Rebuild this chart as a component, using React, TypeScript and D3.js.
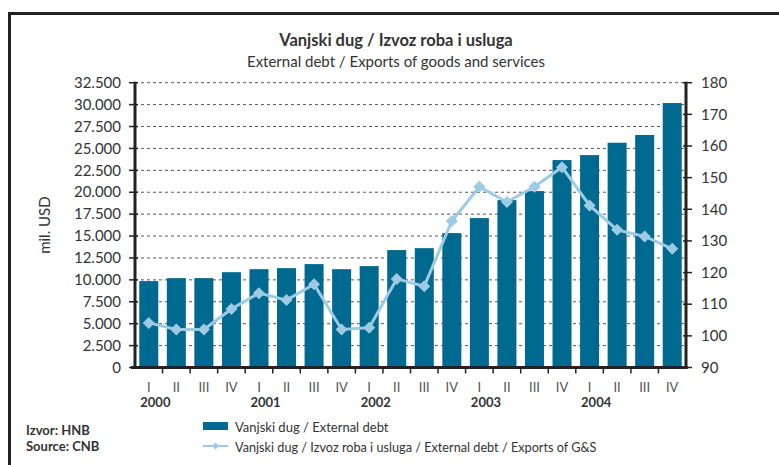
import React from "react";
import * as d3 from "d3";

const quarters = ["I","II","III","IV","I","II","III","IV","I","II","III","IV","I","II","III","IV","I","II","III","IV"];
const years = ["2000","2001","2002","2003","2004"];
const externalDebt = [9860,10200,10200,10880,11220,11340,11800,11220,11570,13400,13620,15340,17050,19100,20130,23670,24240,25650,26530,30180];
const debtToExports = [104.1,102.0,102.0,108.5,113.5,111.3,116.3,102.0,102.6,118.0,115.7,136.3,147.1,142.3,147.1,153.3,141.2,133.5,131.4,127.5];
const leftTicks = [0,2500,5000,7500,10000,12500,15000,17500,20000,22500,25000,27500,30000,32500];
const rightTicks = [90,100,110,120,130,140,150,160,170,180];

const W = 779, H = 465;
const X0 = 135, X1 = 686, Y0 = 367.5, Y1 = 82.7;
const FONT = "Lato, 'Open Sans', sans-serif";
const BAR = "#00698f";
const LINE = "#9ccbe3";
const TXT = "#333";

export default function App() {
  const idx = d3.range(externalDebt.length);
  const x = d3.scaleBand<number>().domain(idx).range([X0, X1]).paddingInner(0.31).paddingOuter(0.155);
  const yL = d3.scaleLinear().domain([0, 32500]).range([Y0, Y1]);
  const yR = d3.scaleLinear().domain([90, 180]).range([Y0, Y1]);
  const fmt = (v: number) => d3.format(",")(v).replace(/,/g, ".");
  const line = d3.line<number>().x((_, i) => x(i)! + x.bandwidth() / 2).y(d => yR(d));
  const step = x.step();
  const diamond = (cx: number, cy: number, r: number) => `M${cx},${cy - r}L${cx + r},${cy}L${cx},${cy + r}L${cx - r},${cy}Z`;

  return (
    <svg width={W} height={H} style={{ position: "absolute", left: 0, top: 0, background: "#fff" }} fontFamily={FONT}>
      <rect x={9.5} y={13.5} width={W + 20} height={H + 20} fill="#fff" stroke="#222" strokeWidth={3} />
      <text x={396} y={46} textAnchor="middle" fontWeight="bold" fontSize={16.5} fill={TXT}>Vanjski dug / Izvoz roba i usluga</text>
      <text x={396} y={67} textAnchor="middle" fontSize={15} fill={TXT}>External debt / Exports of goods and services</text>

      {/* gridlines */}
      {leftTicks.filter(t => t > 0).map(t => (
        <line key={t} x1={X0} x2={X1} y1={yL(t)} y2={yL(t)} stroke="#555" strokeWidth={1} strokeDasharray="3,3" />
      ))}

      {/* bars */}
      {externalDebt.map((v, i) => (
        <rect key={i} x={x(i)} y={yL(v)} width={x.bandwidth()} height={Y0 - yL(v)} fill={BAR} />
      ))}

      {/* line */}
      <path d={line(debtToExports) || ""} fill="none" stroke={LINE} strokeWidth={3} />
      {debtToExports.map((v, i) => (
        <path key={i} d={diamond(x(i)! + x.bandwidth() / 2, yR(v), 6)} fill={LINE} />
      ))}

      {/* left axis */}
      <line x1={X0} x2={X0} y1={Y1 - 1} y2={Y0 + 1.5} stroke="#222" strokeWidth={3} />
      {leftTicks.map(t => (
        <g key={t}>
          <line x1={X0 - 6} x2={X0 + 3} y1={yL(t)} y2={yL(t)} stroke="#222" strokeWidth={1.5} />
          <text x={121} y={yL(t)} dy="0.35em" textAnchor="end" fontSize={15} fill={TXT}>{fmt(t)}</text>
        </g>
      ))}
      <text transform={`translate(50,${(Y0 + Y1) / 2}) rotate(-90)`} textAnchor="middle" fontSize={15} fill={TXT}>mil. USD</text>

      {/* right axis */}
      <line x1={X1} x2={X1} y1={Y1 - 1} y2={Y0 + 1.5} stroke="#222" strokeWidth={3} />
      {rightTicks.map(t => (
        <g key={t}>
          <line x1={X1 - 3} x2={X1 + 6} y1={yR(t)} y2={yR(t)} stroke="#222" strokeWidth={1.5} />
          <text x={701} y={yR(t)} dy="0.35em" textAnchor="start" fontSize={15} fill={TXT}>{t}</text>
        </g>
      ))}

      {/* x axis */}
      <line x1={X0 - 4} x2={X1 + 1.5} y1={Y0} y2={Y0} stroke="#222" strokeWidth={3} />
      {d3.range(1, externalDebt.length).map(i => (
        <line key={i} x1={X0 + i * step} x2={X0 + i * step} y1={Y0} y2={Y0 + 6} stroke="#222" strokeWidth={1.5} />
      ))}
      {quarters.map((q, i) => (
        <text key={i} x={x(i)! + x.bandwidth() / 2} y={392} textAnchor="middle" fontSize={13} fill="#555">{q}</text>
      ))}
      {years.map((yv, k) => (
        <text key={yv} x={x(k * 4)! + 1} y={407} textAnchor="start" fontSize={13} fontWeight="bold" fill={TXT}>{yv}</text>
      ))}

      {/* source */}
      <text x={26} y={435} fontSize={13} fontWeight="bold" fill={TXT}>Izvor: HNB</text>
      <text x={26} y={451} fontSize={13} fontWeight="bold" fill={TXT}>Source: CNB</text>

      {/* legend */}
      <rect x={203} y={422} width={25} height={8} fill={BAR} />
      <text x={235} y={431.5} fontSize={13} fill={TXT}>Vanjski dug / External debt</text>
      <line x1={203} x2={228} y1={446} y2={446} stroke={LINE} strokeWidth={2} />
      <path d={diamond(215.5, 446, 3.5)} fill={LINE} />
      <text x={235} y={451.5} fontSize={12.7} fill={TXT}>Vanjski dug / Izvoz roba i usluga / External debt / Exports of G&amp;S</text>
    </svg>
  );
}
